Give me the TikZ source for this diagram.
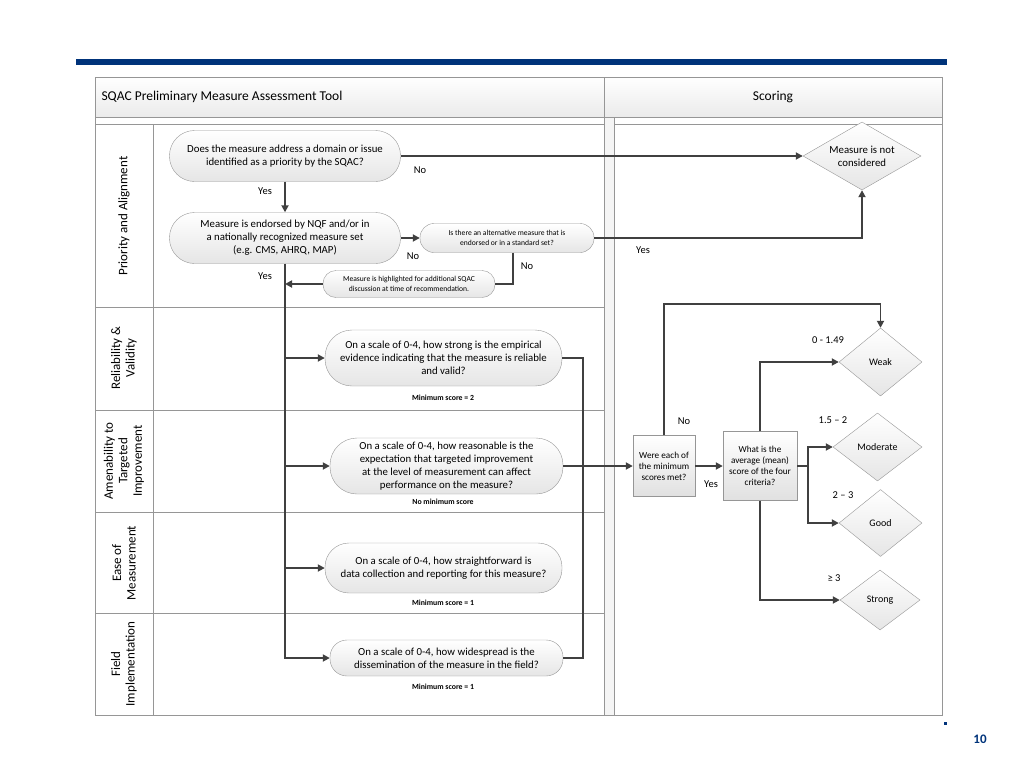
\documentclass[tikz,border=0pt]{standalone}
\usepackage{fontspec}
\setmainfont{Carlito}
\usetikzlibrary{shapes.geometric, arrows.meta}
\definecolor{navy}{RGB}{0,51,122}
\definecolor{frame}{RGB}{150,150,150}
\definecolor{wire}{RGB}{64,64,64}

\begin{document}
\begin{tikzpicture}[x=1pt, y=-1pt,
	lane/.style={draw=frame, line width=0.8pt},
	pill/.style={rectangle, rounded corners=#1, draw=frame, top color=white, bottom color=black!10, align=center, font=\fontsize{10.8}{13}\selectfont, inner sep=1pt},
	smallpill/.style={pill=#1, font=\fontsize{7.6}{10}\selectfont},
	scorebox/.style={rectangle, draw=frame, top color=white, bottom color=black!12, align=center, font=\fontsize{9.2}{11}\selectfont, inner sep=1pt},
	rating/.style={diamond, aspect=1.6, draw=frame, top color=white, bottom color=black!10, align=center, font=\fontsize{10}{12.5}\selectfont, inner sep=0pt},
	lanetitle/.style={rotate=90, align=center, font=\fontsize{13}{14.5}\selectfont},
	note/.style={font=\bfseries\fontsize{7.8}{9}\selectfont},
	tag/.style={font=\fontsize{10.5}{12}\selectfont},
	conn/.style={draw=wire, line width=1.8pt, >={Triangle[length=7pt,width=7pt]}}
]
\useasboundingbox (0,0) rectangle (1024,768);
% top bar and page number
\fill[navy] (76,59) rectangle (947,65);
\fill[navy] (944,722) rectangle (947,725);
\node at (980,739) [font=\bfseries\fontsize{13}{15}\selectfont, text=navy] (page) {10};

% pools and lanes
\draw[lane, top color=white, bottom color=black!8] (95,77) rectangle (604,117);
\draw[lane, top color=white, bottom color=black!8] (604,77) rectangle (942,117);
\draw[lane] (95,117) rectangle (604,124);
\draw[lane] (614,117) rectangle (942,124);
\draw[lane, fill=black!4] (604,117) rectangle (614,715);
\foreach \ytop/\ybot in {124/307, 307/410, 410/512, 512/613, 613/715}
	\draw[lane] (95,\ytop) rectangle (604,\ybot);
\draw[lane] (153,124) -- (153,715);
\draw[lane] (614,124) rectangle (942,715);
\draw[lane] (95,77) rectangle (942,715);

\node at (98,97) [anchor=west, font=\fontsize{13.5}{15}\selectfont] (tool) {SQAC Preliminary Measure Assessment Tool};
\node at (773,97) [font=\fontsize{13.5}{15}\selectfont] (scoring) {Scoring};

\node at (124,216) [lanetitle] (pa) {Priority and Alignment};
\node at (124,358) [lanetitle] (rv) {Reliability \&\\Validity};
\node at (124,461) [lanetitle] (at) {Amenability to\\Targeted\\Improvement};
\node at (124,563) [lanetitle] (em) {Ease of\\Measurement};
\node at (124,664) [lanetitle] (fi) {Field\\Implementation};

% priority and alignment
\node at (285,156) [pill=25pt, minimum width=231pt, minimum height=51pt] (q1) {Does the measure address a domain or issue\\identified as a priority by the SQAC?};
\node at (285,238) [pill=25pt, minimum width=231pt, minimum height=51pt] (q2) {Measure is endorsed by NQF and/or in\\a nationally recognized measure set\\(e.g. CMS, AHRQ, MAP)};
\node at (507,238) [smallpill=14pt, minimum width=174pt, minimum height=29pt] (q3) {Is there an alternative measure that is\\endorsed or in a standard set?};
\node at (409,284) [smallpill=13pt, minimum width=172pt, minimum height=27pt] (q4) {Measure is highlighted for additional SQAC\\discussion at time of recommendation.};
\node at (862,156) [rating, aspect=1.75, minimum width=118pt, minimum height=68pt, font=\fontsize{10.8}{13}\selectfont] (nc) {Measure is not\\considered};

% the four criteria
\node at (443.5,358) [pill=27pt, minimum width=237pt, minimum height=56pt] (r1) {On a scale of 0-4, how strong is the empirical\\evidence indicating that the measure is reliable\\and valid?};
\node at (446.5,466) [pill=27pt, minimum width=233pt, minimum height=56pt] (r2) {On a scale of 0-4, how reasonable is the\\expectation that targeted improvement\\at the level of measurement can affect\\performance on the measure?};
\node at (443.5,568) [pill=24pt, minimum width=237pt, minimum height=50pt] (r3) {On a scale of 0-4, how straightforward is\\data collection and reporting for this measure?};
\node at (446.5,658) [pill=17pt, minimum width=233pt, minimum height=36pt] (r4) {On a scale of 0-4, how widespread is the\\dissemination of the measure in the field?};
\node at (443,398) [note] (min1) {Minimum score = 2};
\node at (443,502) [note] (min2) {No minimum score};
\node at (443,603) [note] (min3) {Minimum score = 1};
\node at (443,687) [note] (min4) {Minimum score = 1};

% scoring
\node at (664,466) [scorebox, minimum width=62pt, minimum height=61pt] (met) {Were each of\\the minimum\\scores met?};
\node at (760,466) [scorebox, minimum width=74pt, minimum height=69pt] (avg) {What is the\\average (mean)\\score of the four\\criteria?};
\node at (880.5,362) [rating, minimum width=83pt, minimum height=68pt] (weak) {Weak};
\node at (877.5,447) [rating, minimum width=89pt, minimum height=68pt] (moderate) {Moderate};
\node at (880.5,523) [rating, minimum width=83pt, minimum height=67pt] (good) {Good};
\node at (880,600) [rating, minimum width=80pt, minimum height=60pt] (strong) {Strong};

% connectors
\draw[conn,->] (q1.south) -- (q2.north);
\draw[conn,->] (q1.east) -- (nc.west);
\draw[conn,->] (q2.east) -- (q3.west);
\draw[conn,->] (q3.east) -| (nc.south);
\draw[conn] ([xshift=6pt]q3.south) |- (q4.east);
\draw[conn,->] (q4.west) -- (q4.west -| q2.south);
\draw[conn,->] (q2.south) |- (r4.west);
\draw[conn,->] (q2.south |- r1.west) -- (r1.west);
\draw[conn,->] (q2.south |- r2.west) -- (r2.west);
\draw[conn,->] (q2.south |- r3.west) -- (r3.west);
\coordinate (collect) at (583,358);
\draw[conn] (r1.east) -- (collect) |- (r4.east);
\draw[conn,->] (r2.east) -- (met.west);
\draw[conn,->] (met.east) -- (avg.west);
\draw[conn,->] (met.north) -- ++(0,-131) -| (weak.north);
\draw[conn,->] (avg.north) |- (weak.west);
\draw[conn] (avg.east) -- ++(11,0) coordinate (split);
\draw[conn,->] (split) |- (moderate.west);
\draw[conn,->] (split) |- (good.west);
\draw[conn,->] (avg.south) |- (strong.west);

% branch labels
\node at (265,191) [tag] (yes1) {Yes};
\node at (420,170) [tag] (no1) {No};
\node at (413,256) [tag] (no2) {No};
\node at (527,266) [tag] (no3) {No};
\node at (265,276) [tag] (yes2) {Yes};
\node at (643,250) [tag] (yes3) {Yes};
\node at (684,421) [tag] (no4) {No};
\node at (711,484) [tag] (yes4) {Yes};
\node at (828,340) [tag] (lweak) {0 - 1.49};
\node at (833,420) [tag] (lmod) {1.5 – 2};
\node at (843,495) [tag] (lgood) {2 – 3};
\node at (834,578) [tag] (lstrong) {≥ 3};
\end{tikzpicture}
\end{document}
